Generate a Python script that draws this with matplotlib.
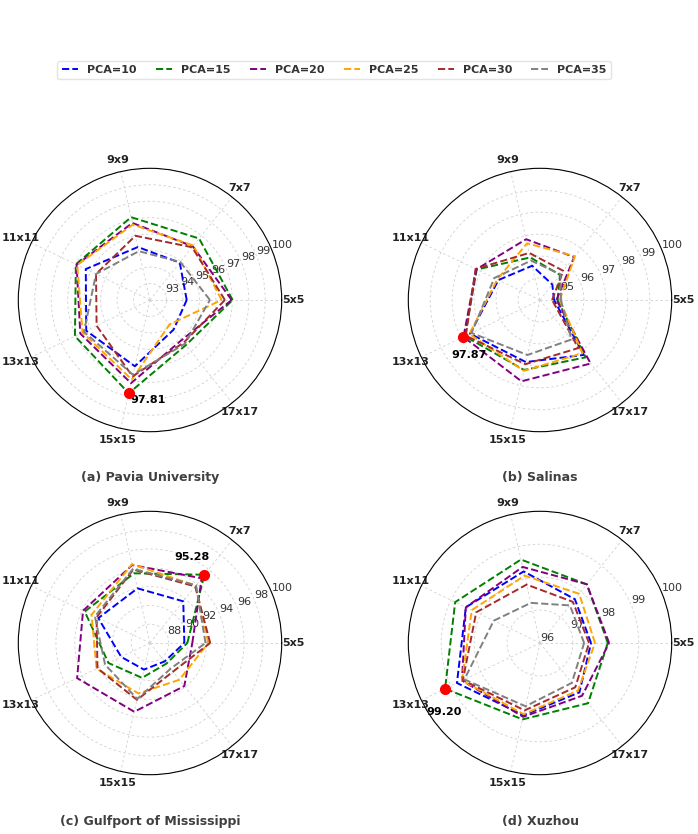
import numpy as np
import matplotlib
matplotlib.use("Agg")
import matplotlib.pyplot as plt

# window sizes (spokes) and PCA settings (series)
windows = ['5x5', '7x7', '9x9', '11x11', '13x13', '15x15', '17x17']
pca_labels = ['PCA=10', 'PCA=15', 'PCA=20', 'PCA=25', 'PCA=30', 'PCA=35']
colors = ['blue', 'green', 'purple', 'orange', 'brown', 'gray']

# (a) Pavia University
pavia_10 = [94.23, 94.90, 95.30, 96.33, 96.30, 96.13, 94.30]
pavia_15 = [97.02, 96.78, 97.16, 97.00, 97.06, 97.81, 95.50]
pavia_20 = [96.96, 96.17, 96.80, 96.95, 96.70, 97.18, 95.10]
pavia_25 = [96.35, 96.23, 96.70, 96.90, 96.55, 96.96, 93.90]
pavia_30 = [96.55, 96.10, 96.00, 95.64, 95.60, 96.76, 95.30]
pavia_35 = [95.64, 94.95, 95.04, 95.64, 96.45, 96.66, 95.40]

# (b) Salinas
salinas_10 = [94.64, 94.90, 95.60, 96.10, 97.54, 96.90, 97.20]
salinas_15 = [94.80, 95.46, 95.99, 97.20, 97.80, 97.27, 97.34]
salinas_20 = [94.75, 96.50, 96.84, 97.22, 97.87, 97.80, 97.70]
salinas_25 = [94.90, 96.55, 96.65, 96.16, 97.57, 97.31, 97.10]
salinas_30 = [94.55, 95.70, 96.20, 97.26, 97.75, 97.00, 96.80]
salinas_35 = [94.95, 95.50, 95.84, 96.31, 97.46, 96.57, 96.30]

# (c) Gulfport of Mississippi
gulf_10 = [89.65, 91.67, 91.96, 92.10, 89.40, 88.90, 88.50]
gulf_15 = [89.97, 95.28, 93.60, 93.70, 90.90, 89.80, 88.80]
gulf_20 = [90.50, 94.80, 94.50, 93.90, 94.60, 93.50, 91.85]
gulf_25 = [92.20, 93.80, 94.60, 92.90, 92.30, 91.50, 91.00]
gulf_30 = [92.40, 93.70, 94.00, 92.30, 92.20, 92.20, 89.90]
gulf_35 = [91.90, 93.85, 94.10, 92.50, 91.30, 92.10, 89.50]

# (d) Xuzhou
xuzhou_10 = [97.55, 97.70, 98.23, 98.50, 98.80, 98.25, 97.92]
xuzhou_15 = [98.06, 98.28, 98.60, 98.86, 99.20, 98.38, 98.34]
xuzhou_20 = [98.10, 98.28, 98.37, 98.50, 98.63, 98.30, 98.05]
xuzhou_25 = [97.67, 97.91, 98.10, 98.30, 98.63, 98.22, 97.85]
xuzhou_30 = [97.49, 97.60, 97.82, 98.15, 98.60, 98.10, 97.72]
xuzhou_35 = [97.34, 97.46, 97.25, 97.56, 98.55, 97.97, 97.55]

titles = ['(a) Pavia University', '(b) Salinas',
          '(c) Gulfport of Mississippi', '(d) Xuzhou']
r_min = [92, 94, 86, 96]
r_ticks = [np.arange(93, 101, 1), np.arange(95, 101, 1),
           np.arange(88, 101, 2), np.arange(96, 101, 1)]

datasets = [
    [pavia_10, pavia_15, pavia_20, pavia_25, pavia_30, pavia_35],
    [salinas_10, salinas_15, salinas_20, salinas_25, salinas_30, salinas_35],
    [gulf_10, gulf_15, gulf_20, gulf_25, gulf_30, gulf_35],
    [xuzhou_10, xuzhou_15, xuzhou_20, xuzhou_25, xuzhou_30, xuzhou_35],
]

# where each polar plot sits (pixel centre) and offset of the best-value label (points)
W, H = 698, 834
centers = [(150, 300), (540, 300), (150, 643), (540, 643)]
radius = 131.7
best_offsets = [(14, -5), (4, -13), (-9, 12.5), (-1, -17)]

fig = plt.figure(figsize=(W / 100, H / 100), dpi=100)

angles = np.linspace(0, 2 * np.pi, len(windows), endpoint=False)
angles_closed = np.concatenate([angles, angles[:1]])

handles = []
for i, series in enumerate(datasets):
    cx, cy = centers[i]
    ax = fig.add_axes([(cx - radius) / W, 1 - (cy + radius) / H,
                       2 * radius / W, 2 * radius / H], polar=True)
    for j, vals in enumerate(series):
        v = np.array(vals + vals[:1])
        ln, = ax.plot(angles_closed, v, linestyle='--', color=colors[j],
                      linewidth=1.4, label=pca_labels[j])
        if i == 0:
            handles.append(ln)

    # best value
    arr = np.array(series)
    s, k = np.unravel_index(np.argmax(arr), arr.shape)
    best = arr[s, k]
    ax.plot(angles[k], best, 'o', color='red', markersize=7, zorder=5)
    ax.annotate(f'{best:.2f}', (angles[k], best), xytext=best_offsets[i],
                textcoords='offset points', ha='center', va='center',
                fontsize=8, fontweight='bold', color='black')

    ax.set_ylim(r_min[i], 100)
    ax.set_yticks(r_ticks[i])
    ax.set_yticklabels([str(t) for t in r_ticks[i]], fontsize=8, color='#333333')
    ax.set_xticks(angles)
    ax.set_xticklabels(windows, fontsize=8, fontweight='bold', color='#222222')
    ax.tick_params(axis='x', pad=-2)
    ax.grid(True, color='#d0d0d0', linestyle=(0, (3, 3)), linewidth=0.6)
    ax.spines['polar'].set_linewidth(0.8)
    ax.spines['polar'].set_color('black')

    fig.text(cx / W, 1 - (cy + 178) / H, titles[i], ha='center', va='center',
             fontsize=9, fontweight='bold', color='#404040')

fig.legend(handles=handles, loc='center', bbox_to_anchor=(334 / W, 1 - 70 / H),
           ncol=6, frameon=True, handlelength=1.5, handletextpad=0.8,
           columnspacing=1.7, prop={'weight': 'bold', 'size': 8},
           labelcolor='#333333', edgecolor='#dddddd')

fig.savefig('out.png', dpi=100)
